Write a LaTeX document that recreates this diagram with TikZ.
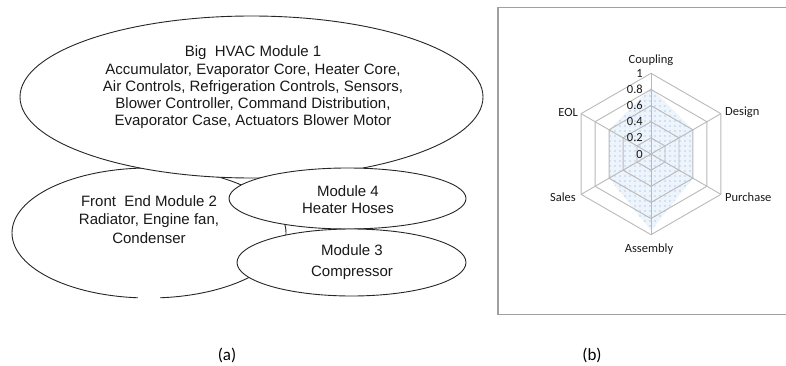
\documentclass[tikz,border=0pt]{standalone}
\usepackage{fontspec}
\setmainfont{Liberation Sans}
\newfontfamily\calfont{Carlito}
\usetikzlibrary{shapes.geometric,patterns.meta}
\definecolor{gridgray}{RGB}{185,185,185}
\definecolor{boxgray}{RGB}{160,160,160}
\definecolor{dotblue}{RGB}{120,160,215}
\definecolor{shadeblue}{RGB}{238,244,252}
\begin{document}
\begin{tikzpicture}[x=1pt,y=-1pt,
  ell/.style={draw=black!85, ellipse, fill=white, line width=0.9pt, inner sep=0pt, outer sep=0pt},
  ltext/.style={align=center, inner sep=0pt, text=black!90, font=\fontsize{15}{17.3}\selectfont},
  rlabel/.style={inner sep=0pt, text=black!90, font=\calfont\fontsize{12.5}{14}\selectfont},
  gridline/.style={draw=gridgray, line width=0.9pt},
  caption/.style={inner sep=0pt, font=\calfont\fontsize{17}{19}\selectfont}]
\useasboundingbox (0,0) rectangle (786,366);
\clip (0,0) rectangle (786,366);

% ---------- (a) modules ----------
\node[ell, minimum width=274pt, minimum height=130pt] (m2) at (149,233) {};
\fill[white] (138,293) rectangle (160,303);
\node[ell, minimum width=463pt, minimum height=162pt] (m1) at (251.5,97) {};
\node[ell, minimum width=237pt, minimum height=61pt] (m4) at (347.5,198.5) {};
\node[ell, minimum width=229pt, minimum height=67pt] (m3) at (351.5,262.5) {};

\node[ltext] (t1) at (253,87.5) {Big\ \ HVAC Module 1\\Accumulator, Evaporator Core, Heater Core,\\Air Controls, Refrigeration Controls, Sensors,\\Blower Controller, Command Distribution,\\Evaporator Case, Actuators Blower Motor};
\node[ltext, font=\fontsize{15}{18.5}\selectfont] (t2) at (149,219.5) {Front\ \ End Module 2\\Radiator, Engine fan,\\Condenser};
\node[ltext] (t4) at (348,199.5) {Module 4\\Heater Hoses};
\node[ltext, font=\fontsize{15}{21}\selectfont] (t3) at (352,262.5) {Module 3\\Compressor};

\node[caption] (capa) at (227,355) {(a)};

% ---------- (b) radar chart ----------
\draw[boxgray, line width=1.3pt] (498,7.5) rectangle (800,314.5);
\begin{scope}[shift={(651,154)}]
  \coordinate (c0) at (0,0);
  \path[fill=shadeblue] (90:66.2pt) -- (30:48.4pt) -- (-30:48.4pt) -- (-90:76.7pt) -- (210:48.4pt) -- (150:48.4pt) -- cycle;
  \path[pattern={Dots[distance=5pt, radius=0.6pt]}, pattern color=dotblue] (90:66.2pt) -- (30:48.4pt) -- (-30:48.4pt) -- (-90:76.7pt) -- (210:48.4pt) -- (150:48.4pt) -- cycle;
  \foreach \k in {0.2,0.4,0.6,0.8,1}
    \draw[gridline] (90:{\k*80.7pt}) -- (30:{\k*80.7pt}) -- (-30:{\k*80.7pt}) -- (-90:{\k*80.7pt}) -- (210:{\k*80.7pt}) -- (150:{\k*80.7pt}) -- cycle;
  \foreach \a/\n in {90/cp,30/ds,-30/pu,-90/as,210/sa,150/eo} {
    \coordinate (\n) at (\a:80.7pt);
    \draw[gridline] (c0) -- (\n);
  }
  \foreach \k/\t [count=\i] in {0/0,0.2/0.2,0.4/0.4,0.6/0.6,0.8/0.8,1/1}
    \node[rlabel, anchor=east] (v\i) at (-8,{-\k*80.7}) {\t};
\end{scope}
\node[rlabel] (lcp) at (651,60) {Coupling};
\node[rlabel, anchor=east] (leo) at (578,112) {EOL};
\node[rlabel, anchor=west] (lds) at (725,112) {Design};
\node[rlabel, anchor=west] (lpu) at (725,197) {Purchase};
\node[rlabel, anchor=east] (lsa) at (576,197) {Sales};
\node[rlabel] (las) at (649,249) {Assembly};

\node[caption] (capb) at (592,355) {(b)};
\end{tikzpicture}
\end{document}
